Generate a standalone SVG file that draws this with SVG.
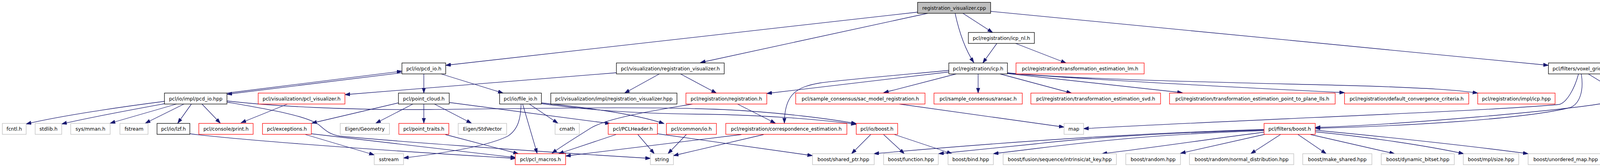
<svg xmlns="http://www.w3.org/2000/svg" width="4235" height="427" viewBox="0 0 4235 427">
<style>
rect{stroke-width:1.3}
.nb rect{fill:#fff;stroke:#000}
.nr rect{fill:#fff;stroke:#ff0000}
.ng rect{fill:#fff;stroke:#bfbfbf}
.nm rect{fill:#bfbfbf;stroke:#000}
text{font-family:"DejaVu Sans","Liberation Sans",sans-serif;font-size:12.5px;fill:#000;text-anchor:middle}
#edges path{fill:none;stroke:#191970;stroke-width:1.3;marker-end:url(#ah)}
</style>
<defs>
<marker id="ah" markerUnits="userSpaceOnUse" viewBox="0 0 14 10" markerWidth="14" markerHeight="10" refX="13" refY="4.5" orient="auto">
<path d="M0,0 L13,4.5 L0,9 Z" fill="#191970" stroke="#191970" stroke-width="1"/>
</marker>
</defs>
<rect width="4235" height="427" fill="#fff"/>
<g id="edges">
<path d="M2349,31 L1141,167"/>
<path d="M2375,34 L1793,160"/>
<path d="M2445,34 C2455,80 2470,125 2493,160"/>
<path d="M2465,34 L2541,83"/>
<path d="M2536,29 L3964,167"/>
<path d="M2552,111 L2516,161"/>
<path d="M2600,111 L2729,161"/>
<path d="M1578,186 L883,242"/>
<path d="M1688,189 L1599,238"/>
<path d="M1742,189 L1834,238"/>
<path d="M1085,189 L1085,238"/>
<path d="M1129,189 L1288,238"/>
<path d="M1029,186 L581,241"/>
<path d="M581,238 L1029,182"/>
<path d="M422,259 C320,272 160,295 67,317"/>
<path d="M422,265 C340,280 230,300 158,317"/>
<path d="M452,266 L282,315"/>
<path d="M471,266 L372,315"/>
<path d="M490,266 L455,315"/>
<path d="M517,266 L564,315"/>
<path d="M581,258 C700,272 900,282 1100,280 C1400,277 1650,272 1850,280 C2000,287 2130,305 2192,316"/>
<path d="M581,261 C690,280 780,295 815,318 C830,330 840,343 870,348 C1000,360 1300,383 1665,405"/>
<path d="M736,266 L617,314"/>
<path d="M1020,263 L798,315"/>
<path d="M1057,266 L962,315"/>
<path d="M1085,266 L1085,315"/>
<path d="M1112,266 L1207,315"/>
<path d="M1150,262 L1562,316"/>
<path d="M1334,266 C1333,300 1328,330 1300,348 C1240,378 1100,396 1033,404"/>
<path d="M1338,266 L1375,392"/>
<path d="M1355,266 L1428,315"/>
<path d="M1386,263 C1500,275 1620,290 1700,316"/>
<path d="M1386,265 C1500,280 1600,290 1800,292 C1950,294 2100,305 2192,318"/>
<path d="M1888,266 L1985,315"/>
<path d="M1773,266 C1680,282 1560,300 1513,327 C1480,348 1440,372 1413,392"/>
<path d="M1898,344 L1448,399"/>
<path d="M1955,344 L1724,398"/>
<path d="M1633,344 L1675,393"/>
<path d="M1683,342 L2080,398"/>
<path d="M1577,344 L1430,393"/>
<path d="M1757,344 L1710,393"/>
<path d="M782,344 L958,396"/>
<path d="M797,342 L1320,403"/>
<path d="M486,342 C600,356 900,380 1320,405"/>
<path d="M1140,344 L1327,393"/>
<path d="M2302,266 L2724,325"/>
<path d="M2429,184 L1963,239"/>
<path d="M2429,180 C2300,192 2150,205 2100,212 C2040,222 2008,240 2008,315"/>
<path d="M2448,189 L2262,237"/>
<path d="M2504,189 L2504,238"/>
<path d="M2560,189 L2743,238"/>
<path d="M2579,188 L3027,237"/>
<path d="M2579,187 C2800,205 3200,225 3442,237"/>
<path d="M2579,186 C2750,205 3300,214 3500,220 C3650,225 3730,230 3783,238"/>
<path d="M4066,189 L4146,238"/>
<path d="M4041,189 C4030,230 4010,262 3992,267 C3800,285 3200,305 2774,329"/>
<path d="M4048,189 C4055,230 4045,265 4020,275 C3900,305 3600,322 3367,328"/>
<path d="M4106,264 C4000,282 3600,318 3367,326"/>
<path d="M3236,331 C3000,338 2700,352 2237,393"/>
<path d="M3236,332 C3000,340 2800,350 2650,368 L2403,393"/>
<path d="M3236,334 C3000,342 2850,355 2650,380 L2543,393"/>
<path d="M3236,338 C3100,355 2950,378 2821,393"/>
<path d="M3240,343 L3022,392"/>
<path d="M3278,344 L3202,393"/>
<path d="M3323,344 L3395,393"/>
<path d="M3355,344 L3570,393"/>
<path d="M3367,337 C3500,350 3650,372 3747,393"/>
<path d="M3367,333 C3550,350 3780,375 3912,393"/>
<path d="M2229,344 L2180,393"/>
<path d="M2262,344 L2315,393"/>
<path d="M2290,344 L2437,393"/>
</g>
<g id="n_main" class="nm"><rect x="2349" y="6" width="187" height="28"/><text x="2442.5" y="24.5">registration_visualizer.cpp</text></g>
<g id="n_icp_nl" class="nb"><rect x="2479" y="83" width="169" height="28"/><text x="2563.5" y="101.5">pcl/registration/icp_nl.h</text></g>
<g id="n_pcd_io_h" class="nb"><rect x="1029" y="161" width="112" height="28"/><text x="1085" y="179.5">pcl/io/pcd_io.h</text></g>
<g id="n_reg_vis_h" class="nb"><rect x="1578" y="161" width="276" height="28"/><text x="1716" y="179.5">pcl/visualization/registration_visualizer.h</text></g>
<g id="n_icp_h" class="nb"><rect x="2429" y="161" width="150" height="28"/><text x="2504" y="179.5">pcl/registration/icp.h</text></g>
<g id="n_lm" class="nr"><rect x="2601" y="161" width="328" height="28"/><text x="2765" y="179.5">pcl/registration/transformation_estimation_lm.h</text></g>
<g id="n_voxel" class="nb"><rect x="3964" y="161" width="159" height="28"/><text x="4043.5" y="179.5">pcl/filters/voxel_grid.h</text></g>
<g id="n_pcd_io_hpp" class="nb"><rect x="421" y="238" width="160" height="28"/><text x="501" y="256.5">pcl/io/impl/pcd_io.hpp</text></g>
<g id="n_pcl_vis" class="nr"><rect x="661" y="238" width="222" height="28"/><text x="772" y="256.5">pcl/visualization/pcl_visualizer.h</text></g>
<g id="n_point_cloud" class="nb"><rect x="1020" y="238" width="130" height="28"/><text x="1085" y="256.5">pcl/point_cloud.h</text></g>
<g id="n_file_io" class="nb"><rect x="1279" y="238" width="107" height="28"/><text x="1332.5" y="256.5">pcl/io/file_io.h</text></g>
<g id="n_reg_vis_hpp" class="nb"><rect x="1410" y="238" width="323" height="28"/><text x="1571.5" y="256.5">pcl/visualization/impl/registration_visualizer.hpp</text></g>
<g id="n_registration" class="nr"><rect x="1756" y="238" width="207" height="28"/><text x="1859.5" y="256.5">pcl/registration/registration.h</text></g>
<g id="n_sac_model" class="nr"><rect x="2037" y="238" width="331" height="28"/><text x="2202.5" y="256.5">pcl/sample_consensus/sac_model_registration.h</text></g>
<g id="n_ransac" class="nr"><rect x="2391" y="238" width="226" height="28"/><text x="2504" y="256.5">pcl/sample_consensus/ransac.h</text></g>
<g id="n_svd" class="nr"><rect x="2639" y="238" width="332" height="28"/><text x="2805" y="256.5">pcl/registration/transformation_estimation_svd.h</text></g>
<g id="n_p2p" class="nr"><rect x="2994" y="238" width="424" height="28"/><text x="3206" y="256.5">pcl/registration/transformation_estimation_point_to_plane_lls.h</text></g>
<g id="n_conv" class="nr"><rect x="3442" y="238" width="318" height="28"/><text x="3601" y="256.5">pcl/registration/default_convergence_criteria.h</text></g>
<g id="n_icp_hpp" class="nr"><rect x="3783" y="238" width="198" height="28"/><text x="3882" y="256.5">pcl/registration/impl/icp.hpp</text></g>
<g id="n_filter" class="nr"><rect x="4106" y="238" width="123" height="28"/><text x="4167.5" y="256.5">pcl/filters/filter.h</text></g>
<g id="n_fcntl" class="ng"><rect x="6" y="315.5" width="61" height="28"/><text x="36.5" y="334">fcntl.h</text></g>
<g id="n_stdlib" class="ng"><rect x="90" y="315.5" width="68" height="28"/><text x="124" y="334">stdlib.h</text></g>
<g id="n_mman" class="ng"><rect x="181" y="315.5" width="101" height="28"/><text x="231.5" y="334">sys/mman.h</text></g>
<g id="n_fstream" class="ng"><rect x="307" y="315.5" width="72" height="28"/><text x="343" y="334">fstream</text></g>
<g id="n_lzf" class="nb"><rect x="402" y="315.5" width="84" height="28"/><text x="444" y="334">pcl/io/lzf.h</text></g>
<g id="n_print" class="nr"><rect x="509" y="315.5" width="139" height="28"/><text x="578.5" y="334">pcl/console/print.h</text></g>
<g id="n_exceptions" class="nr"><rect x="672" y="315.5" width="125" height="28"/><text x="734.5" y="334">pcl/exceptions.h</text></g>
<g id="n_geometry" class="ng"><rect x="871" y="315.5" width="126" height="28"/><text x="934" y="334">Eigen/Geometry</text></g>
<g id="n_traits" class="nr"><rect x="1021" y="315.5" width="128" height="28"/><text x="1085" y="334">pcl/point_traits.h</text></g>
<g id="n_stdvector" class="ng"><rect x="1173" y="315.5" width="124" height="28"/><text x="1235" y="334">Eigen/StdVector</text></g>
<g id="n_cmath" class="ng"><rect x="1421" y="315.5" width="62" height="28"/><text x="1452" y="334">cmath</text></g>
<g id="n_pclheader" class="nr"><rect x="1557" y="315.5" width="126" height="28"/><text x="1620" y="334">pcl/PCLHeader.h</text></g>
<g id="n_common_io" class="nr"><rect x="1706" y="315.5" width="128" height="28"/><text x="1770" y="334">pcl/common/io.h</text></g>
<g id="n_corr" class="nr"><rect x="1858" y="315.5" width="310" height="28"/><text x="2013" y="334">pcl/registration/correspondence_estimation.h</text></g>
<g id="n_io_boost" class="nr"><rect x="2192" y="315.5" width="106" height="28"/><text x="2245" y="334">pcl/io/boost.h</text></g>
<g id="n_map" class="ng"><rect x="2724" y="315.5" width="50" height="28"/><text x="2749" y="334">map</text></g>
<g id="n_filters_boost" class="nr"><rect x="3236" y="315.5" width="131" height="28"/><text x="3301.5" y="334">pcl/filters/boost.h</text></g>
<g id="n_sstream" class="ng"><rect x="958" y="393" width="75" height="28"/><text x="995.5" y="411.5">sstream</text></g>
<g id="n_macros" class="nr"><rect x="1319" y="393" width="129" height="28"/><text x="1383.5" y="411.5">pcl/pcl_macros.h</text></g>
<g id="n_string" class="ng"><rect x="1665" y="393" width="59" height="28"/><text x="1694.5" y="411.5">string</text></g>
<g id="n_shared_ptr" class="ng"><rect x="2080" y="393" width="158" height="28"/><text x="2159" y="411.5">boost/shared_ptr.hpp</text></g>
<g id="n_function" class="ng"><rect x="2262" y="393" width="140" height="28"/><text x="2332" y="411.5">boost/function.hpp</text></g>
<g id="n_bind" class="ng"><rect x="2427" y="393" width="116" height="28"/><text x="2485" y="411.5">boost/bind.hpp</text></g>
<g id="n_at_key" class="ng"><rect x="2568" y="393" width="290" height="28"/><text x="2713" y="411.5">boost/fusion/sequence/intrinsic/at_key.hpp</text></g>
<g id="n_random" class="ng"><rect x="2882" y="393" width="140" height="28"/><text x="2952" y="411.5">boost/random.hpp</text></g>
<g id="n_normal" class="ng"><rect x="3045" y="393" width="267" height="28"/><text x="3178.5" y="411.5">boost/random/normal_distribution.hpp</text></g>
<g id="n_make_shared" class="ng"><rect x="3335" y="393" width="177" height="28"/><text x="3423.5" y="411.5">boost/make_shared.hpp</text></g>
<g id="n_dyn" class="ng"><rect x="3536" y="393" width="187" height="28"/><text x="3629.5" y="411.5">boost/dynamic_bitset.hpp</text></g>
<g id="n_mpl" class="ng"><rect x="3746" y="393" width="142" height="28"/><text x="3817" y="411.5">boost/mpl/size.hpp</text></g>
<g id="n_umap" class="ng"><rect x="3912" y="393" width="192" height="28"/><text x="4008" y="411.5">boost/unordered_map.hpp</text></g>
</svg>
